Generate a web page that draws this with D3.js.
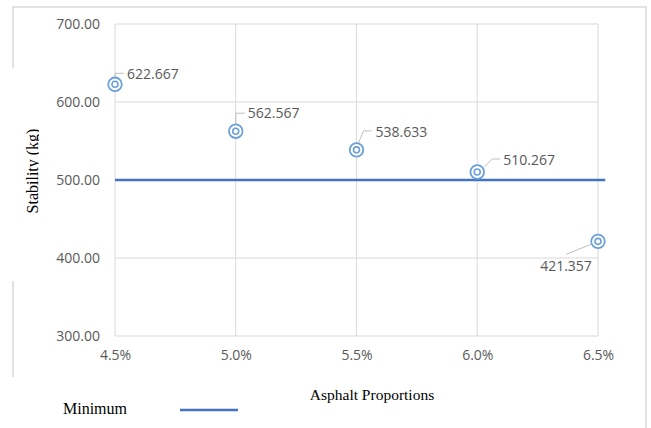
<!DOCTYPE html>
<html>
<head>
<meta charset="utf-8">
<script src="https://cdn.jsdelivr.net/npm/d3@7"></script>
<style>
  body { margin: 0; background: #fff; }
  svg { display: block; }
</style>
</head>
<body>
<div id="vis"><svg></svg></div>
<script>
// data
var proportions = [4.5, 5.0, 5.5, 6.0, 6.5];
var stability = [622.667, 562.567, 538.633, 510.267, 421.357];
var minimumX = [4.5, 6.53];
var minimumY = [500, 500];
var yTicks = [300, 400, 500, 600, 700];
var xTicks = [4.5, 5.0, 5.5, 6.0, 6.5];

// where each data label sits relative to its marker (leader line points + text anchor)
var labelLayout = [
  {leader: [[0, -7], [0, -11], [9, -11]], tx: 12, ty: -10, anchor: "start"},
  {leader: [[0, -7], [0, -18], [9, -18]], tx: 12, ty: -18, anchor: "start"},
  {leader: [[2, -7], [7, -19], [15, -19]], tx: 19, ty: -18, anchor: "start"},
  {leader: [[7, -5], [15, -13], [23, -13]], tx: 26, ty: -12, anchor: "start"},
  {leader: [[-7, 3], [-32, 13]], tx: -32, ty: 25, anchor: "middle"}
];

var W = 651, H = 428;
var margin = {top: 24, right: 53, bottom: 92, left: 115};
var width = W - margin.left - margin.right,
    height = H - margin.top - margin.bottom;

var root = d3.select("#vis").select("svg")
    .attr("width", W)
    .attr("height", H);

// outer chart frame (partly hidden behind the axis title box)
var frame = root.append("g")
    .attr("fill", "none")
    .attr("stroke", "#d9d9d9")
    .attr("stroke-width", 1.5);
frame.append("path").attr("d", "M13,68 L13,7 L646,7 L646,428");
frame.append("path").attr("d", "M13,281 L13,377");

var svg = root.append("g")
    .attr("transform", "translate(" + margin.left + "," + margin.top + ")");

var x = d3.scaleLinear()
    .domain([4.5, 6.5])
    .range([0, width]);

var y = d3.scaleLinear()
    .domain([300, 700])
    .range([height, 0]);

// gridlines
svg.append("g")
    .selectAll("line.h")
    .data(yTicks)
    .join("line")
        .attr("x1", 0).attr("x2", width)
        .attr("y1", d => y(d)).attr("y2", d => y(d))
        .attr("stroke", "#d9d9d9")
        .attr("stroke-width", 1);

svg.append("g")
    .selectAll("line.v")
    .data(xTicks)
    .join("line")
        .attr("x1", d => x(d)).attr("x2", d => x(d))
        .attr("y1", 0).attr("y2", height)
        .attr("stroke", "#d9d9d9")
        .attr("stroke-width", 1);

// axes, text only
var yAxis = svg.append("g")
    .call(d3.axisLeft(y).tickValues(yTicks).tickFormat(d3.format(".2f")).tickSize(0).tickPadding(15));
var xAxis = svg.append("g")
    .attr("transform", "translate(0," + height + ")")
    .call(d3.axisBottom(x).tickValues(xTicks).tickFormat(d => d3.format(".1f")(d) + "%").tickSize(0).tickPadding(14));

[yAxis, xAxis].forEach(function(a){
  a.select(".domain").remove();
  a.selectAll("text")
      .attr("fill", "#595959")
      .style("font-family", "'Open Sans', sans-serif")
      .style("font-size", "14px");
});

// minimum line
var minData = minimumX.map((d, i) => ({x: d, y: minimumY[i]}));
svg.append("path")
    .datum(minData)
    .attr("fill", "none")
    .attr("stroke", "#4472c4")
    .attr("stroke-width", 2.5)
    .attr("d", d3.line().x(d => x(d.x)).y(d => y(d.y)));

// points
var pts = proportions.map((d, i) => ({x: d, y: stability[i], lab: labelLayout[i]}));

var marks = svg.append("g")
    .selectAll("g")
    .data(pts)
    .join("g")
        .attr("transform", d => "translate(" + x(d.x) + "," + y(d.y) + ")");

marks.append("path")
    .attr("d", d => d3.line()(d.lab.leader))
    .attr("fill", "none")
    .attr("stroke", "#bfbfbf")
    .attr("stroke-width", 1);

marks.append("circle")
    .attr("r", 6.8)
    .attr("fill", "#fff")
    .attr("stroke", "#6a9fd8")
    .attr("stroke-width", 1.8);
marks.append("circle")
    .attr("r", 3)
    .attr("fill", "#fff")
    .attr("stroke", "#6a9fd8")
    .attr("stroke-width", 1.6);

marks.append("text")
    .attr("x", d => d.lab.tx)
    .attr("y", d => d.lab.ty)
    .attr("dy", "0.35em")
    .attr("text-anchor", d => d.lab.anchor)
    .attr("fill", "#595959")
    .style("font-family", "'Open Sans', sans-serif")
    .style("font-size", "14px")
    .text(d => d3.format(".3f")(d.y));

// axis titles (serif, as pasted in the document)
root.append("clipPath").attr("id", "ttl")
  .append("rect").attr("x", 0).attr("y", 60).attr("width", 39).attr("height", 220);

root.append("g")
    .attr("clip-path", "url(#ttl)")
  .append("text")
    .attr("transform", "translate(38,171) rotate(-90)")
    .attr("text-anchor", "middle")
    .style("font-family", "'Liberation Serif', 'Times New Roman', serif")
    .style("font-size", "16px")
    .text("Stability (kg)");

root.append("text")
    .attr("x", 372)
    .attr("y", 395)
    .attr("dy", "0.35em")
    .attr("text-anchor", "middle")
    .style("font-family", "'Liberation Serif', 'Times New Roman', serif")
    .style("font-size", "15.5px")
    .text("Asphalt Proportions");

// legend
root.append("text")
    .attr("x", 63)
    .attr("y", 408)
    .attr("dy", "0.35em")
    .style("font-family", "'Liberation Serif', 'Times New Roman', serif")
    .style("font-size", "16px")
    .text("Minimum");

root.append("line")
    .attr("x1", 180).attr("x2", 238)
    .attr("y1", 410).attr("y2", 410)
    .attr("stroke", "#4472c4")
    .attr("stroke-width", 2.5);
</script>
</body>
</html>
